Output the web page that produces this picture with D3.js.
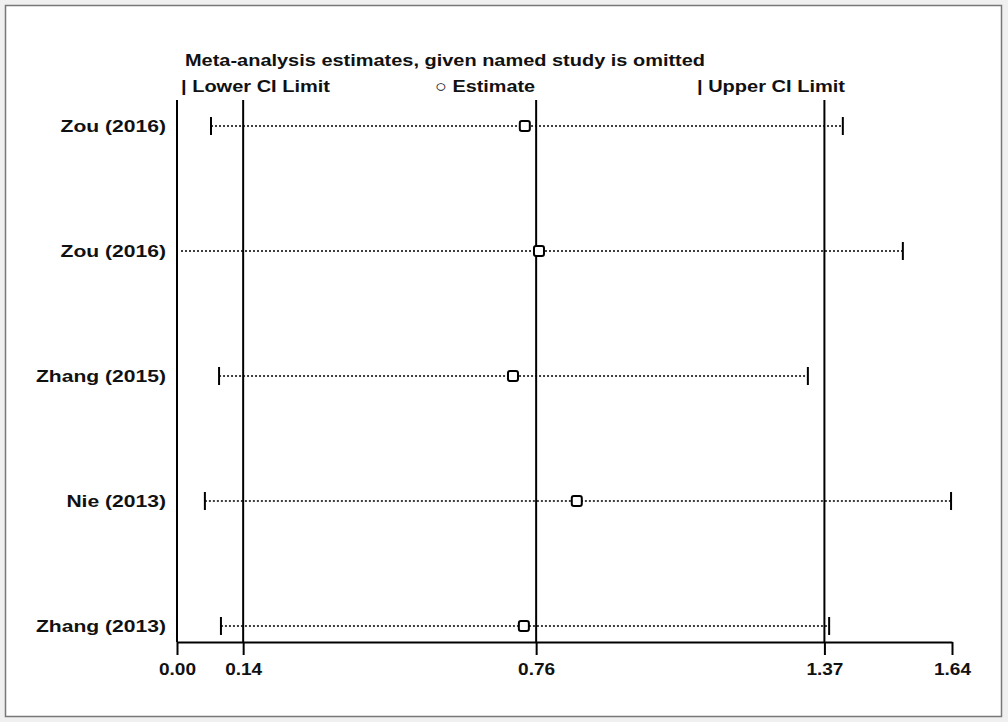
<!DOCTYPE html>
<html>
<head>
<meta charset="utf-8">
<script src="https://cdn.jsdelivr.net/npm/d3@7"></script>
<style>
  body { margin: 0; background: #f0f0f0; }
  text { font-family: "Liberation Sans", Arial, sans-serif; font-weight: bold; fill: #111; }
</style>
</head>
<body>
<div id="chart"></div>
<script>
// studies (one omitted at a time) and the pooled estimate without it
const studies = ["Zou (2016)", "Zou (2016)", "Zhang (2015)", "Nie (2013)", "Zhang (2013)"];
const lowerCI = [0.072, -0.03, 0.089, 0.059, 0.093];
const estimate = [0.736, 0.766, 0.711, 0.846, 0.734];
const upperCI = [1.409, 1.536, 1.335, 1.638, 1.380];
const tickVals = [0.00, 0.14, 0.76, 1.37, 1.64];
const refLines = [0.00, 0.14, 0.76, 1.37];

const width = 1008;
const height = 722;
const margin = {left: 177, right: 56, top: 100, bottom: 80};
const axisY = 642;

// rows as objects so filtering keeps the right index
const rows = studies.map((s, i) => ({i: i, name: s, lo: lowerCI[i], est: estimate[i], hi: upperCI[i]}));

const svg = d3.select("#chart")
  .append("svg")
  .attr("width", width)
  .attr("height", height);

// stretch text horizontally (the original font is wide)
function widen(sel, f) {
  sel.each(function() {
    const w = this.getComputedTextLength();
    d3.select(this).attr("textLength", w * f).attr("lengthAdjust", "spacingAndGlyphs");
  });
}

// panel frame
svg.append("rect")
  .attr("x", 5.5).attr("y", 5.5)
  .attr("width", 996).attr("height", 711)
  .attr("fill", "#fff")
  .attr("stroke", "#777")
  .attr("stroke-width", 1.5);

const x = d3.scaleLinear()
  .domain([0, 1.64])
  .range([margin.left, width - margin.right]);

const y = d3.scalePoint()
  .domain(d3.range(studies.length))
  .range([126, 626]);

// vertical reference lines
svg.selectAll(".ref")
  .data(refLines)
  .enter()
  .append("line")
    .attr("x1", d => x(d)).attr("x2", d => x(d))
    .attr("y1", margin.top).attr("y2", axisY)
    .attr("stroke", "#000")
    .attr("stroke-width", 2);

// x axis
const xAxis = svg.append("g")
  .attr("transform", `translate(0,${axisY})`)
  .call(d3.axisBottom(x)
    .tickValues(tickVals)
    .tickFormat(d3.format(".2f"))
    .tickSizeInner(13)
    .tickSizeOuter(0));
xAxis.select(".domain").attr("stroke", "#000").attr("stroke-width", 2);
xAxis.selectAll(".tick line").attr("stroke", "#000").attr("stroke-width", 2);
xAxis.selectAll(".tick text")
  .attr("dy", "1.0em")
  .attr("font-size", "17px")
  .attr("font-family", "'Liberation Sans', Arial, sans-serif")
  .attr("font-weight", "bold")
  .attr("fill", "#111")
  .call(widen, 1.12);

// study labels
svg.selectAll(".label")
  .data(rows)
  .enter()
  .append("text")
    .attr("x", 166)
    .attr("y", d => y(d.i))
    .attr("dy", "0.35em")
    .attr("text-anchor", "end")
    .attr("font-size", "17px")
    .text(d => d.name)
    .call(widen, 1.24);

const xc = v => x(Math.max(0, v));

// dotted CI lines
svg.selectAll(".ci")
  .data(rows)
  .enter()
  .append("line")
    .attr("x1", d => xc(d.lo) + (d.lo < 0 ? 4 : 0))
    .attr("x2", d => x(d.hi))
    .attr("y1", d => y(d.i))
    .attr("y2", d => y(d.i))
    .attr("stroke", "#000")
    .attr("stroke-width", 1.5)
    .attr("stroke-dasharray", "2,2");

// caps (lower cap only drawn if inside the axis range)
svg.selectAll(".lcap")
  .data(rows.filter(d => d.lo >= 0))
  .enter()
  .append("line")
    .attr("x1", d => x(d.lo)).attr("x2", d => x(d.lo))
    .attr("y1", d => y(d.i) - 9).attr("y2", d => y(d.i) + 9)
    .attr("stroke", "#000").attr("stroke-width", 2);

svg.selectAll(".ucap")
  .data(rows)
  .enter()
  .append("line")
    .attr("x1", d => x(d.hi)).attr("x2", d => x(d.hi))
    .attr("y1", d => y(d.i) - 9).attr("y2", d => y(d.i) + 9)
    .attr("stroke", "#000").attr("stroke-width", 2);

// estimate markers
svg.selectAll(".est")
  .data(rows)
  .enter()
  .append("rect")
    .attr("x", d => x(d.est) - 5)
    .attr("y", d => y(d.i) - 5)
    .attr("width", 10).attr("height", 10)
    .attr("rx", 2)
    .attr("fill", "#fff")
    .attr("stroke", "#000")
    .attr("stroke-width", 2);

// title and legend
svg.append("text")
  .attr("x", 185).attr("y", 66)
  .attr("font-size", "17px")
  .attr("textLength", 520)
  .attr("lengthAdjust", "spacingAndGlyphs")
  .text("Meta-analysis estimates, given named study is omitted");

const legend = [
  {x: 181, w: 149, label: "| Lower CI Limit"},
  {x: 435, w: 100, label: "\u25CB Estimate"},
  {x: 697, w: 148, label: "| Upper CI Limit"}
];
svg.selectAll(".leg")
  .data(legend)
  .enter()
  .append("text")
    .attr("x", d => d.x).attr("y", 92)
    .attr("font-size", "17px")
    .attr("textLength", d => d.w)
    .attr("lengthAdjust", "spacingAndGlyphs")
    .text(d => d.label);
</script>
</body>
</html>
